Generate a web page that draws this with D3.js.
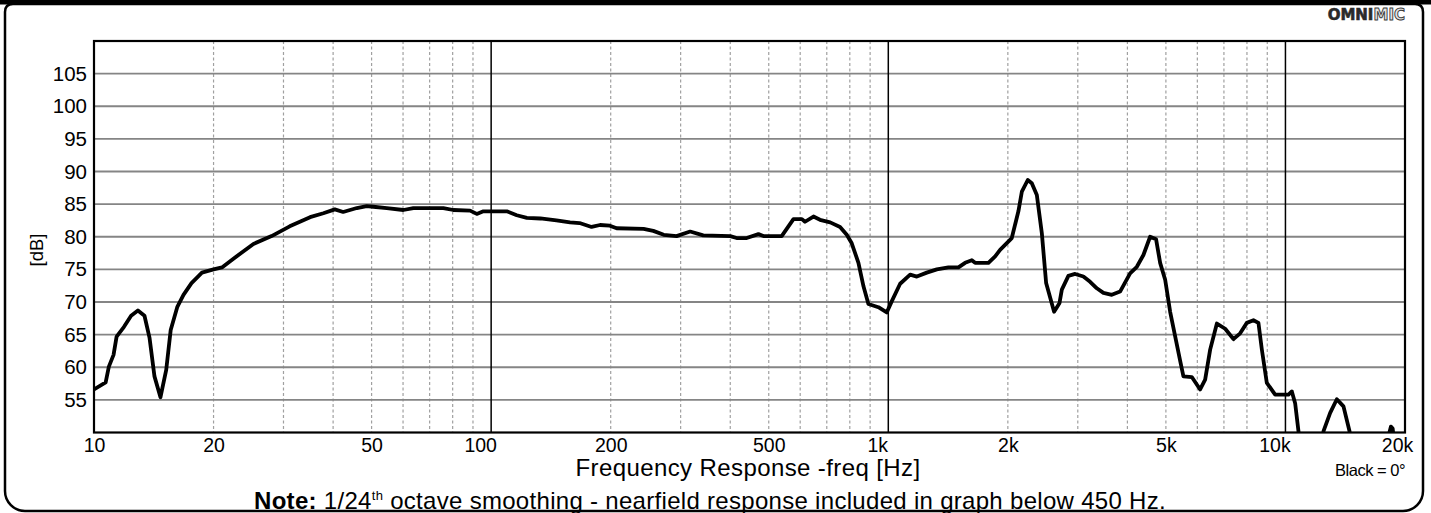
<!DOCTYPE html>
<html>
<head>
<meta charset="utf-8">
<script src="https://cdn.jsdelivr.net/npm/d3@7/dist/d3.min.js"></script>
<style>
  html, body { margin: 0; padding: 0; background: #fff; }
  svg { display: block; }
  text { font-family: "Liberation Sans", Arial, sans-serif; fill: #000; }
</style>
</head>
<body>
<svg id="chart" width="1431" height="513"></svg>
<script>
// ---- data (frequency in Hz, level in dB) ----
const freqHz = [10, 10.7, 10.9, 11.2, 11.4, 11.9, 12.4, 12.9, 13.4, 13.8, 14.2, 14.7, 15.2, 15.6, 16.2, 16.8, 17.6, 18.7,
  20.0, 21.0, 22.4, 25.2, 28.0, 31.1, 35.0, 37.8, 40.4, 42.4, 45.9, 48.6, 50.5, 54.6, 60.1, 63.7, 75.8, 80.3, 88.5, 92.0, 95.6,
  105, 109.5, 116, 123, 133, 146, 158, 167, 179, 188, 199, 207, 242, 256, 272, 293, 317, 342, 400, 415, 440, 471, 485, 539,
  577, 606, 617, 648, 673, 714, 756, 786, 809, 841, 866, 891, 944, 991, 1020, 1071, 1135, 1180, 1250, 1325, 1417, 1502,
  1561, 1623, 1654, 1787, 1858, 1912, 2046, 2126, 2169, 2245, 2298, 2366, 2436, 2497, 2615, 2697, 2735, 2841, 2954, 3099,
  3222, 3350, 3481, 3654, 3834, 4063, 4225, 4389, 4563, 4724, 4836, 4979, 5125, 5306, 5430, 5535, 5811, 6098, 6278, 6463,
  6720, 7051, 7398, 7690, 7994, 8306, 8551, 8722, 8977, 9421, 10176, 10378, 10578, 10784, 11020, 12090, 12470, 12960,
  13470, 14000, 14500, 14810, 17930, 18200, 18430, 18620, 19070, 20000];
const levelDb = [56.6, 57.7, 60.1, 61.9, 64.7, 66.2, 67.9, 68.7, 67.9, 64.5, 58.6, 55.4, 59.6, 65.7, 69.2, 71.1, 72.9, 74.5,
  75.0, 75.3, 76.6, 78.9, 80.1, 81.6, 83.0, 83.6, 84.2, 83.8, 84.4, 84.7, 84.6, 84.4, 84.1, 84.4, 84.4, 84.1, 84.0, 83.5, 83.9,
  83.9, 83.9, 83.3, 82.9, 82.8, 82.5, 82.2, 82.1, 81.5, 81.8, 81.7, 81.3, 81.2, 80.9, 80.3, 80.1, 80.8, 80.2, 80.1, 79.8, 79.8, 80.4, 80.1, 80.1,
  82.7, 82.7, 82.3, 83.1, 82.6, 82.2, 81.5, 80.3, 79.0, 76.0, 72.4, 69.7, 69.2, 68.4, 70.1, 72.8, 74.2, 73.9, 74.5, 75.0, 75.3, 75.3,
  76.0, 76.4, 76.0, 76.0, 77.0, 78.0, 79.8, 83.9, 86.9, 88.7, 88.2, 86.4, 80.5, 72.9, 68.5, 69.8, 71.9, 74.0, 74.3, 73.9,
  73.1, 72.1, 71.4, 71.1, 71.6, 74.4, 75.4, 77.2, 80.0, 79.6, 76.0, 73.4, 68.5, 64.0, 61.0, 58.6, 58.5, 56.6, 58.1, 62.7,
  66.7, 65.9, 64.3, 65.2, 66.8, 67.2, 66.8, 62.7, 57.6, 55.8, 55.8, 56.3, 54.5, 50.2, 45.0, 45.0, 50.2, 53.0,
  55.1, 54.0, 50.2, 46.0, 46.0, 49.6, 50.9, 50.6, 45.0, 44.0];

const yTicks = [55, 60, 65, 70, 75, 80, 85, 90, 95, 100, 105];
const xMajor = [100, 1000, 10000];
const xMinor = [20, 30, 40, 50, 60, 70, 80, 90, 200, 300, 400, 500, 600, 700, 800, 900,
                2000, 3000, 4000, 5000, 6000, 7000, 8000, 9000];
const xTickValues = [10, 20, 50, 100, 200, 500, 1000, 2000, 5000, 10000, 20000];
const xTickLabels = ["10", "20", "50", "100", "200", "500", "1k", "2k", "5k", "10k", "20k"];

const yTitle = "[dB]";
const xTitle = "Frequency Response -freq [Hz]";
const legendNote = "Black = 0°";

// ---- layout ----
const svg = d3.select("#chart");
const W = 1431, H = 513;
const plot = { left: 94, right: 1405, top: 41, bottom: 432.5 };

const x = d3.scaleLog().domain([10, 20000]).range([plot.left, plot.right]);
const y = d3.scaleLinear().domain([50, 110]).range([plot.bottom, plot.top]);

// outer frame
svg.append("rect").attr("x", 0).attr("y", 0).attr("width", W).attr("height", 4.5).attr("fill", "#000");
svg.append("path")
  .attr("d", "M5,491 L5,12 Q5,4 13,4 L1415,4 Q1423,4 1423,12 L1423,491 A20,20 0 0 1 1403,511 L25,511 A20,20 0 0 1 5,491 Z")
  .attr("fill", "none").attr("stroke", "#000").attr("stroke-width", 2.5);

// logo
const logo = svg.append("text").attr("x", 1405).attr("y", 20).attr("text-anchor", "end")
  .style("font-family", "'DejaVu Sans', sans-serif").style("font-weight", "bold").style("font-size", "15px");
logo.append("tspan").text("OMNI").style("fill", "#2a2a2a").style("stroke", "#2a2a2a").style("stroke-width", "0.6px");
logo.append("tspan").text("MIC").style("fill", "#e4e4e4").style("stroke", "#3a3a3a").style("stroke-width", "0.9px");

// grid
const g = svg.append("g");
g.selectAll("line.minor").data(xMinor).join("line").attr("class", "minor")
  .attr("x1", d => x(d)).attr("x2", d => x(d)).attr("y1", plot.top).attr("y2", plot.bottom)
  .attr("stroke", "#a0a0a0").attr("stroke-width", 1.2).attr("stroke-dasharray", "3,2.5");
g.selectAll("line.h").data(yTicks).join("line").attr("class", "h")
  .attr("x1", plot.left).attr("x2", plot.right).attr("y1", d => y(d)).attr("y2", d => y(d))
  .attr("stroke", "#858585").attr("stroke-width", 1.8);
g.selectAll("line.major").data(xMajor).join("line").attr("class", "major")
  .attr("x1", d => x(d)).attr("x2", d => x(d)).attr("y1", plot.top).attr("y2", plot.bottom)
  .attr("stroke", "#000").attr("stroke-width", 1.5);

// y axis labels
const yAxis = d3.axisLeft(y).tickValues(yTicks).tickSize(0).tickPadding(7).tickFormat(d3.format("d"));
const ya = svg.append("g").attr("transform", `translate(${plot.left},0)`).call(yAxis);
ya.select(".domain").remove();
ya.selectAll("text").style("font-size", "20.5px").style("font-family", "'Liberation Sans', Arial, sans-serif");

// x axis labels
const xAxis = d3.axisBottom(x).tickValues(xTickValues).tickSize(0).tickPadding(0)
  .tickFormat((d, i) => xTickLabels[i]);
const xa = svg.append("g").attr("transform", `translate(0,${plot.bottom})`).call(xAxis);
xa.select(".domain").remove();
xa.selectAll("text").style("font-size", "19.5px").style("font-family", "'Liberation Sans', Arial, sans-serif")
  .attr("y", 19.5).attr("dy", 0)
  .attr("dx", d => (d === 100 || d === 1000 || d === 10000) ? -11 : (d === 20000 ? -8 : 0));

// clip + curve
svg.append("clipPath").attr("id", "clip").append("rect")
  .attr("x", plot.left).attr("y", plot.top).attr("width", plot.right - plot.left).attr("height", plot.bottom - plot.top);
const pts = freqHz.map((f, i) => [f, levelDb[i]]);
const line = d3.line().x(d => x(d[0])).y(d => y(d[1])).curve(d3.curveLinear);
svg.append("path").datum(pts).attr("clip-path", "url(#clip)")
  .attr("d", line).attr("fill", "none").attr("stroke", "#000").attr("stroke-width", 3.8)
  .attr("stroke-linejoin", "round").attr("stroke-linecap", "round");

// plot border
svg.append("rect").attr("x", plot.left).attr("y", plot.top)
  .attr("width", plot.right - plot.left).attr("height", plot.bottom - plot.top)
  .attr("fill", "none").attr("stroke", "#000").attr("stroke-width", 2.2);

// titles
svg.append("text").attr("transform", "translate(43,250) rotate(-90)").attr("text-anchor", "middle")
  .style("font-size", "18.5px").text(yTitle);
svg.append("text").attr("x", 748).attr("y", 476).attr("text-anchor", "middle")
  .style("font-size", "24px").style("letter-spacing", "0.4px").text(xTitle);
svg.append("text").attr("x", 1405).attr("y", 476).attr("text-anchor", "end")
  .style("font-size", "16.5px").style("letter-spacing", "-0.5px").text(legendNote);

const note = svg.append("text").attr("x", 710).attr("y", 509).attr("text-anchor", "middle")
  .style("font-size", "24px").style("letter-spacing", "0.3px");
note.append("tspan").style("font-weight", "bold").text("Note:");
note.append("tspan").text(" 1/24");
note.append("tspan").attr("dy", -9).style("font-size", "13px").text("th");
note.append("tspan").attr("dy", 9).text(" octave smoothing - nearfield response included in graph below 450 Hz.");
</script>
</body>
</html>
